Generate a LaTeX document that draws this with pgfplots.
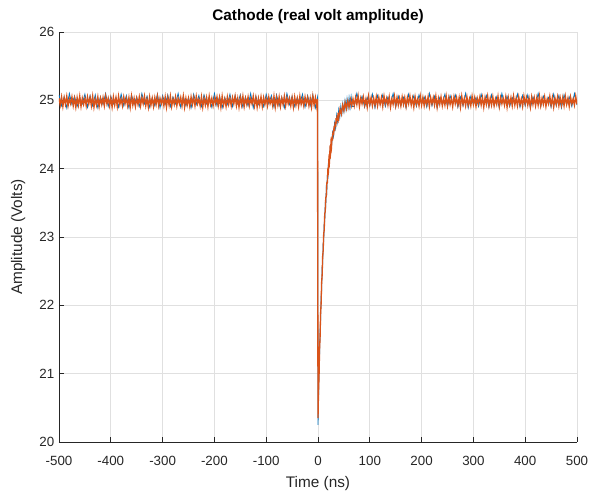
\documentclass[border=0pt]{standalone}
\usepackage{fontspec}
\setmainfont{Liberation Sans}
\usepackage{pgfplots}
\pgfplotsset{compat=1.18}
\definecolor{mblue}{rgb}{0,0.447,0.741}
\definecolor{morange}{rgb}{0.85,0.325,0.098}
\definecolor{maxis}{gray}{0.15}
\definecolor{mgrid}{gray}{0.88}

\begin{document}
\begin{tikzpicture}
\begin{axis}[
  scale only axis, width=388.5pt, height=307.5pt,
  xmin=-500, xmax=500, ymin=20, ymax=26,
  xtick={-500,-400,...,500}, ytick={20,21,...,26},
  axis x line*=bottom, axis y line*=left,
  axis line style={maxis, line width=0.5pt, -},
  tick align=inside, major tick length=3.75pt,
  tick style={maxis, line width=0.5pt},
  grid=major, grid style={mgrid, line width=0.5pt},
  ticklabel style={font=\fontsize{10}{12}\selectfont, text=maxis},
  xticklabel style={yshift=-7pt},
  /pgf/number format/assume math mode=true,
  xlabel={Time (ns)}, ylabel={Amplitude (Volts)},
  label style={font=\fontsize{11.5}{13}\selectfont, text=maxis},
  xlabel style={at={(axis description cs:0.5,-0.073)}, anchor=north},
  ylabel style={at={(axis description cs:-0.079,0.5)}, anchor=center},
  every axis title shift=0pt,
  title={Cathode (real volt amplitude)},
  title style={font=\fontsize{11.5}{13}\selectfont\bfseries, text=black,
    at={(axis description cs:0.5,1.037)}, anchor=center},
]
% channel 1
\addplot[mblue, line width=0.6pt, no marks] coordinates {
(-500,25.08)(-495,24.92)(-490,25.05)(-485,24.89)(-480,25.10)(-475,24.94)(-470,25.06)(-465,24.91)(-460,25.04)(-455,24.95)
(-450,25.09)(-445,24.90)(-440,25.07)(-435,24.92)(-430,25.08)(-425,24.89)(-420,25.05)(-415,24.94)(-410,25.10)(-405,24.91)
(-400,25.06)(-395,24.95)(-390,25.04)(-385,24.90)(-380,25.09)(-375,24.92)(-370,25.07)(-365,24.89)(-360,25.08)(-355,24.94)
(-350,25.05)(-345,24.91)(-340,25.10)(-335,24.95)(-330,25.06)(-325,24.90)(-320,25.04)(-315,24.92)(-310,25.09)(-305,24.89)
(-300,25.07)(-295,24.94)(-290,25.08)(-285,24.91)(-280,25.05)(-275,24.95)(-270,25.10)(-265,24.90)(-260,25.06)(-255,24.92)
(-250,25.04)(-245,24.89)(-240,25.09)(-235,24.94)(-230,25.07)(-225,24.91)(-220,25.08)(-215,24.95)(-210,25.05)(-205,24.90)
(-200,25.10)(-195,24.92)(-190,25.06)(-185,24.89)(-180,25.04)(-175,24.94)(-170,25.09)(-165,24.91)(-160,25.07)(-155,24.95)
(-150,25.08)(-145,24.90)(-140,25.05)(-135,24.92)(-130,25.10)(-125,24.89)(-120,25.06)(-115,24.94)(-110,25.04)(-105,24.91)
(-100,25.09)(-95,24.95)(-90,25.07)(-85,24.90)(-80,25.08)(-75,24.92)(-70,25.05)(-65,24.89)(-60,25.10)(-55,24.94)
(-50,25.06)(-45,24.91)(-40,25.04)(-35,24.95)(-30,25.09)(-25,24.90)(-20,25.07)(-15,24.92)(-10,25.08)(-5,24.89)
(-1,25.04)(0,20.25)
(1,20.62)(2,21.06)(3,21.25)(4,21.64)(5,21.77)(6,22.13)(7,22.21)(8,22.56)(9,22.60)(10,22.92)
(11,22.93)(12,23.22)(13,23.22)(14,23.48)(15,23.46)(16,23.71)(17,23.67)(18,23.91)(19,23.85)(20,24.07)
(22,24.07)(24,24.34)(26,24.30)(28,24.53)(30,24.47)(32,24.67)(34,24.59)(36,24.78)(38,24.68)(40,24.86)
(42,24.75)(44,24.91)(46,24.80)(48,24.95)(50,24.84)(52,24.99)(54,24.87)(56,25.02)(58,24.89)(60,25.04)
(62,24.90)(64,25.05)(66,24.91)
(70,24.91)(75,25.10)(80,24.95)(85,25.06)(90,24.90)(95,25.04)(100,24.92)(105,25.09)(110,24.89)(115,25.07)
(120,24.94)(125,25.08)(130,24.91)(135,25.05)(140,24.95)(145,25.10)(150,24.90)(155,25.06)(160,24.92)(165,25.04)
(170,24.89)(175,25.09)(180,24.94)(185,25.07)(190,24.91)(195,25.08)(200,24.95)(205,25.05)(210,24.90)(215,25.10)
(220,24.92)(225,25.06)(230,24.89)(235,25.04)(240,24.94)(245,25.09)(250,24.91)(255,25.07)(260,24.95)(265,25.08)
(270,24.90)(275,25.05)(280,24.92)(285,25.10)(290,24.89)(295,25.06)(300,24.94)(305,25.04)(310,24.91)(315,25.09)
(320,24.95)(325,25.07)(330,24.90)(335,25.08)(340,24.92)(345,25.05)(350,24.89)(355,25.10)(360,24.94)(365,25.06)
(370,24.91)(375,25.04)(380,24.95)(385,25.09)(390,24.90)(395,25.07)(400,24.92)(405,25.08)(410,24.89)(415,25.05)
(420,24.94)(425,25.10)(430,24.91)(435,25.06)(440,24.95)(445,25.04)(450,24.90)(455,25.09)(460,24.92)(465,25.07)
(470,24.89)(475,25.08)(480,24.94)(485,25.05)(490,24.91)(495,25.10)(500,24.93)
};
% channel 2
\addplot[morange, line width=1pt, no marks] coordinates {
(-500,25.03)(-497.5,24.93)(-495,25.05)(-492.5,24.91)(-490,25.04)(-487.5,24.94)(-485,25.06)(-482.5,24.92)(-480,25.02)(-477.5,24.95)
(-475,25.05)(-472.5,24.92)(-470,25.03)(-467.5,24.90)(-465,25.04)(-462.5,24.93)(-460,25.06)(-457.5,24.91)(-455,25.03)(-452.5,24.94)
(-450,25.03)(-447.5,24.92)(-445,25.05)(-442.5,24.95)(-440,25.04)(-437.5,24.92)(-435,25.06)(-432.5,24.90)(-430,25.02)(-427.5,24.93)
(-425,25.05)(-422.5,24.91)(-420,25.03)(-417.5,24.94)(-415,25.04)(-412.5,24.92)(-410,25.06)(-407.5,24.95)(-405,25.03)(-402.5,24.92)
(-400,25.03)(-397.5,24.90)(-395,25.05)(-392.5,24.93)(-390,25.04)(-387.5,24.91)(-385,25.06)(-382.5,24.94)(-380,25.02)(-377.5,24.92)
(-375,25.05)(-372.5,24.95)(-370,25.03)(-367.5,24.92)(-365,25.04)(-362.5,24.90)(-360,25.06)(-357.5,24.93)(-355,25.03)(-352.5,24.91)
(-350,25.03)(-347.5,24.94)(-345,25.05)(-342.5,24.92)(-340,25.04)(-337.5,24.95)(-335,25.06)(-332.5,24.92)(-330,25.02)(-327.5,24.90)
(-325,25.05)(-322.5,24.93)(-320,25.03)(-317.5,24.91)(-315,25.04)(-312.5,24.94)(-310,25.06)(-307.5,24.92)(-305,25.03)(-302.5,24.95)
(-300,25.03)(-297.5,24.92)(-295,25.05)(-292.5,24.90)(-290,25.04)(-287.5,24.93)(-285,25.06)(-282.5,24.91)(-280,25.02)(-277.5,24.94)
(-275,25.05)(-272.5,24.92)(-270,25.03)(-267.5,24.95)(-265,25.04)(-262.5,24.92)(-260,25.06)(-257.5,24.90)(-255,25.03)(-252.5,24.93)
(-250,25.03)(-247.5,24.91)(-245,25.05)(-242.5,24.94)(-240,25.04)(-237.5,24.92)(-235,25.06)(-232.5,24.95)(-230,25.02)(-227.5,24.92)
(-225,25.05)(-222.5,24.90)(-220,25.03)(-217.5,24.93)(-215,25.04)(-212.5,24.91)(-210,25.06)(-207.5,24.94)(-205,25.03)(-202.5,24.92)
(-200,25.03)(-197.5,24.95)(-195,25.05)(-192.5,24.92)(-190,25.04)(-187.5,24.90)(-185,25.06)(-182.5,24.93)(-180,25.02)(-177.5,24.91)
(-175,25.05)(-172.5,24.94)(-170,25.03)(-167.5,24.92)(-165,25.04)(-162.5,24.95)(-160,25.06)(-157.5,24.92)(-155,25.03)(-152.5,24.90)
(-150,25.04)(-147.5,24.93)(-145,25.06)(-142.5,24.91)(-140,25.03)(-137.5,24.94)(-135,25.05)(-132.5,24.92)(-130,25.02)(-127.5,24.95)
(-125,25.06)(-122.5,24.92)(-120,25.04)(-117.5,24.90)(-115,25.03)(-112.5,24.93)(-110,25.05)(-107.5,24.91)(-105,25.04)(-102.5,24.94)
(-100,25.03)(-97.5,24.92)(-95,25.05)(-92.5,24.95)(-90,25.02)(-87.5,24.92)(-85,25.06)(-82.5,24.90)(-80,25.04)(-77.5,24.93)
(-75,25.05)(-72.5,24.91)(-70,25.03)(-67.5,24.94)(-65,25.06)(-62.5,24.92)(-60,25.04)(-57.5,24.95)(-55,25.03)(-52.5,24.92)
(-50,25.04)(-47.5,24.90)(-45,25.05)(-42.5,24.93)(-40,25.03)(-37.5,24.91)(-35,25.06)(-32.5,24.94)(-30,25.02)(-27.5,24.92)
(-25,25.05)(-22.5,24.95)(-20,25.04)(-17.5,24.92)(-15,25.03)(-12.5,24.90)(-10,25.06)(-7.5,24.93)(-5,25.04)(-2.5,24.91)
(-1,25.02)(0,20.35)
(1,20.74)(2,20.96)(3,21.36)(4,21.53)(5,21.88)(6,22.02)(7,22.34)(8,22.44)(9,22.72)(10,22.80)
(11,23.05)(12,23.10)(13,23.34)(14,23.37)(15,23.58)(16,23.59)(17,23.79)(18,23.79)(19,23.97)(20,23.95)
(21,24.13)(22,24.09)(23,24.26)(24,24.22)(25,24.37)(26,24.32)(27,24.47)(28,24.41)(29,24.55)(30,24.49)
(31,24.62)(32,24.55)(33,24.68)(34,24.61)(35,24.74)(36,24.66)(37,24.78)(38,24.70)(39,24.82)(40,24.74)
(42.5,24.87)(45,24.80)(47.5,24.93)(50,24.85)(52.5,24.97)(55,24.88)(57.5,24.99)(60,24.90)(62.5,25.01)(65,24.92)(67.5,25.02)
(70,24.92)(72.5,25.04)(75,24.94)(77.5,25.06)(80,24.91)(82.5,25.03)(85,24.95)(87.5,25.05)(90,24.93)(92.5,25.02)
(95,24.90)(97.5,25.06)(100,24.94)(102.5,25.04)(105,24.92)(107.5,25.03)(110,24.93)(112.5,25.05)(115,24.92)(117.5,25.04)
(120,24.94)(122.5,25.04)(125,24.91)(127.5,25.06)(130,24.95)(132.5,25.03)(135,24.93)(137.5,25.05)(140,24.90)(142.5,25.02)
(145,24.94)(147.5,25.06)(150,24.92)(152.5,25.04)(155,24.93)(157.5,25.03)(160,24.92)(162.5,25.05)(165,24.94)(167.5,25.04)
(170,24.91)(172.5,25.04)(175,24.95)(177.5,25.06)(180,24.93)(182.5,25.03)(185,24.90)(187.5,25.05)(190,24.94)(192.5,25.02)
(195,24.92)(197.5,25.06)(200,24.93)(202.5,25.04)(205,24.92)(207.5,25.03)(210,24.94)(212.5,25.05)(215,24.91)(217.5,25.04)
(220,24.95)(222.5,25.04)(225,24.93)(227.5,25.06)(230,24.90)(232.5,25.03)(235,24.94)(237.5,25.05)(240,24.92)(242.5,25.02)
(245,24.93)(247.5,25.06)(250,24.92)(252.5,25.04)(255,24.94)(257.5,25.03)(260,24.91)(262.5,25.05)(265,24.95)(267.5,25.04)
(270,24.93)(272.5,25.04)(275,24.90)(277.5,25.06)(280,24.94)(282.5,25.03)(285,24.92)(287.5,25.05)(290,24.93)(292.5,25.02)
(295,24.92)(297.5,25.06)(300,24.94)(302.5,25.04)(305,24.91)(307.5,25.03)(310,24.95)(312.5,25.05)(315,24.93)(317.5,25.04)
(320,24.90)(322.5,25.04)(325,24.94)(327.5,25.06)(330,24.92)(332.5,25.03)(335,24.93)(337.5,25.05)(340,24.92)(342.5,25.02)
(345,24.94)(347.5,25.06)(350,24.91)(352.5,25.04)(355,24.95)(357.5,25.03)(360,24.93)(362.5,25.05)(365,24.90)(367.5,25.04)
(370,24.94)(372.5,25.04)(375,24.92)(377.5,25.06)(380,24.93)(382.5,25.03)(385,24.92)(387.5,25.05)(390,24.94)(392.5,25.02)
(395,24.91)(397.5,25.06)(400,24.95)(402.5,25.04)(405,24.93)(407.5,25.03)(410,24.90)(412.5,25.05)(415,24.94)(417.5,25.04)
(420,24.92)(422.5,25.04)(425,24.93)(427.5,25.06)(430,24.92)(432.5,25.03)(435,24.94)(437.5,25.05)(440,24.91)(442.5,25.02)
(445,24.95)(447.5,25.06)(450,24.93)(452.5,25.04)(455,24.90)(457.5,25.03)(460,24.94)(462.5,25.05)(465,24.92)(467.5,25.04)
(470,24.93)(472.5,25.04)(475,24.92)(477.5,25.06)(480,24.94)(482.5,25.03)(485,24.91)(487.5,25.05)(490,24.95)(492.5,25.02)
(495,24.93)(497.5,25.06)(500,24.94)
};
\end{axis}
\pgfresetboundingbox
\path[use as bounding box] ([xshift=-44.25pt,yshift=-38.25pt]current axis.south west)
  rectangle ([xshift=10.5pt,yshift=24pt]current axis.north east);
\end{tikzpicture}
\end{document}
